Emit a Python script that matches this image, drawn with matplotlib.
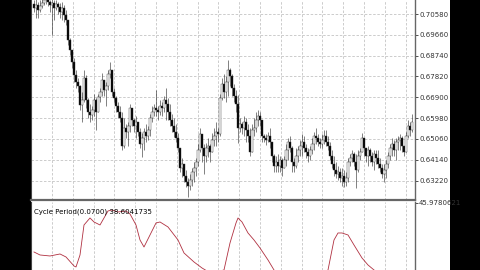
import matplotlib
matplotlib.use('Agg')
import matplotlib.pyplot as plt
from matplotlib.patches import Rectangle

# closes / highs / lows per bar (open = previous close)
close = [0.7085, 0.7098, 0.7076, 0.7093, 0.7107, 0.7120, 0.7129, 0.7111, 0.7098, 0.7107,
         0.7085, 0.7102, 0.7089, 0.7067, 0.7085, 0.7054, 0.7032, 0.6943, 0.6899, 0.6846,
         0.6788, 0.6758, 0.6740, 0.6656, 0.6678, 0.6775, 0.6678, 0.6625, 0.6612, 0.6634,
         0.6678, 0.6625, 0.6691, 0.6713, 0.6766, 0.6722, 0.6740, 0.6793, 0.6811, 0.6713,
         0.6687, 0.6651, 0.6625, 0.6598, 0.6475, 0.6554, 0.6537, 0.6563, 0.6643, 0.6590,
         0.6563, 0.6581, 0.6537, 0.6484, 0.6510, 0.6537, 0.6519, 0.6545, 0.6598, 0.6625,
         0.6643, 0.6634, 0.6625, 0.6651, 0.6643, 0.6678, 0.6660, 0.6625, 0.6590, 0.6563,
         0.6537, 0.6510, 0.6466, 0.6377, 0.6395, 0.6342, 0.6316, 0.6298, 0.6324, 0.6360,
         0.6377, 0.6404, 0.6457, 0.6528, 0.6466, 0.6431, 0.6466, 0.6475, 0.6448, 0.6501,
         0.6519, 0.6537, 0.6528, 0.6687, 0.6749, 0.6713, 0.6758, 0.6811, 0.6784, 0.6731,
         0.6696, 0.6660, 0.6554, 0.6572, 0.6554, 0.6581, 0.6545, 0.6519, 0.6448, 0.6545,
         0.6554, 0.6590, 0.6607, 0.6590, 0.6519, 0.6510, 0.6501, 0.6519, 0.6492, 0.6431,
         0.6386, 0.6404, 0.6386, 0.6413, 0.6377, 0.6413, 0.6457, 0.6492, 0.6466, 0.6404,
         0.6386, 0.6431, 0.6457, 0.6475, 0.6492, 0.6466, 0.6448, 0.6431, 0.6457, 0.6484,
         0.6519, 0.6510, 0.6492, 0.6484, 0.6501, 0.6519, 0.6492, 0.6475, 0.6431, 0.6395,
         0.6369, 0.6351, 0.6360, 0.6333, 0.6342, 0.6316, 0.6333, 0.6404, 0.6422, 0.6439,
         0.6404, 0.6369, 0.6431, 0.6448, 0.6510, 0.6466, 0.6431, 0.6457, 0.6431, 0.6404,
         0.6439, 0.6422, 0.6395, 0.6377, 0.6351, 0.6369, 0.6395, 0.6431, 0.6466, 0.6484,
         0.6457, 0.6492, 0.6501, 0.6510, 0.6475, 0.6448, 0.6519, 0.6563, 0.6545, 0.6581]
high = [0.7120, 0.7129, 0.7111, 0.7120, 0.7133, 0.7142, 0.7147, 0.7138, 0.7120, 0.7129,
        0.7120, 0.7120, 0.7111, 0.7107, 0.7111, 0.7098, 0.7076, 0.7005, 0.6952, 0.6899,
        0.6864, 0.6811, 0.6775, 0.6744, 0.6713, 0.6811, 0.6788, 0.6687, 0.6660, 0.6651,
        0.6705, 0.6687, 0.6705, 0.6731, 0.6797, 0.6758, 0.6758, 0.6811, 0.6846, 0.6811,
        0.6731, 0.6696, 0.6669, 0.6651, 0.6625, 0.6598, 0.6572, 0.6581, 0.6660, 0.6643,
        0.6598, 0.6607, 0.6581, 0.6554, 0.6532, 0.6554, 0.6572, 0.6563, 0.6616, 0.6651,
        0.6660, 0.6722, 0.6651, 0.6678, 0.6669, 0.6696, 0.6731, 0.6687, 0.6660, 0.6616,
        0.6598, 0.6572, 0.6532, 0.6466, 0.6422, 0.6395, 0.6369, 0.6333, 0.6351, 0.6377,
        0.6404, 0.6422, 0.6484, 0.6554, 0.6510, 0.6484, 0.6488, 0.6510, 0.6484, 0.6532,
        0.6554, 0.6581, 0.6554, 0.6705, 0.6775, 0.6793, 0.6784, 0.6855, 0.6819, 0.6793,
        0.6749, 0.6722, 0.6700, 0.6598, 0.6581, 0.6607, 0.6598, 0.6572, 0.6554, 0.6572,
        0.6598, 0.6625, 0.6634, 0.6625, 0.6581, 0.6528, 0.6528, 0.6537, 0.6554, 0.6484,
        0.6439, 0.6431, 0.6439, 0.6431, 0.6422, 0.6431, 0.6484, 0.6510, 0.6519, 0.6475,
        0.6422, 0.6466, 0.6475, 0.6501, 0.6528, 0.6519, 0.6484, 0.6466, 0.6475, 0.6510,
        0.6537, 0.6554, 0.6528, 0.6510, 0.6528, 0.6545, 0.6545, 0.6519, 0.6492, 0.6457,
        0.6431, 0.6404, 0.6386, 0.6377, 0.6377, 0.6369, 0.6360, 0.6422, 0.6439, 0.6457,
        0.6448, 0.6439, 0.6457, 0.6466, 0.6532, 0.6510, 0.6466, 0.6475, 0.6466, 0.6448,
        0.6457, 0.6457, 0.6457, 0.6422, 0.6395, 0.6395, 0.6413, 0.6448, 0.6484, 0.6510,
        0.6501, 0.6510, 0.6519, 0.6528, 0.6519, 0.6475, 0.6537, 0.6590, 0.6581, 0.6616]
low = [0.7067, 0.7040, 0.7040, 0.7067, 0.7085, 0.7098, 0.7102, 0.7093, 0.7067, 0.6965,
       0.7032, 0.7076, 0.7058, 0.7040, 0.7032, 0.7023, 0.7010, 0.6921, 0.6877, 0.6819,
       0.6758, 0.6731, 0.6713, 0.6634, 0.6581, 0.6669, 0.6643, 0.6598, 0.6581, 0.6590,
       0.6607, 0.6545, 0.6634, 0.6669, 0.6696, 0.6696, 0.6651, 0.6722, 0.6775, 0.6696,
       0.6669, 0.6625, 0.6598, 0.6581, 0.6457, 0.6466, 0.6510, 0.6475, 0.6537, 0.6563,
       0.6537, 0.6510, 0.6519, 0.6466, 0.6426, 0.6457, 0.6492, 0.6501, 0.6519, 0.6581,
       0.6607, 0.6607, 0.6590, 0.6612, 0.6607, 0.6625, 0.6590, 0.6590, 0.6563, 0.6537,
       0.6514, 0.6492, 0.6448, 0.6360, 0.6338, 0.6316, 0.6293, 0.6249, 0.6280, 0.6298,
       0.6316, 0.6342, 0.6386, 0.6448, 0.6404, 0.6351, 0.6404, 0.6426, 0.6404, 0.6448,
       0.6475, 0.6475, 0.6492, 0.6519, 0.6678, 0.6687, 0.6669, 0.6696, 0.6740, 0.6696,
       0.6669, 0.6625, 0.6488, 0.6537, 0.6528, 0.6519, 0.6492, 0.6492, 0.6431, 0.6448,
       0.6519, 0.6537, 0.6563, 0.6563, 0.6492, 0.6492, 0.6479, 0.6492, 0.6466, 0.6404,
       0.6360, 0.6360, 0.6360, 0.6360, 0.6342, 0.6377, 0.6386, 0.6413, 0.6448, 0.6360,
       0.6360, 0.6377, 0.6404, 0.6431, 0.6431, 0.6448, 0.6422, 0.6404, 0.6413, 0.6439,
       0.6457, 0.6484, 0.6475, 0.6466, 0.6466, 0.6484, 0.6475, 0.6457, 0.6413, 0.6377,
       0.6342, 0.6333, 0.6324, 0.6316, 0.6298, 0.6293, 0.6298, 0.6316, 0.6386, 0.6404,
       0.6386, 0.6289, 0.6360, 0.6413, 0.6448, 0.6431, 0.6404, 0.6386, 0.6404, 0.6386,
       0.6369, 0.6395, 0.6377, 0.6360, 0.6333, 0.6316, 0.6333, 0.6377, 0.6413, 0.6431,
       0.6431, 0.6413, 0.6457, 0.6457, 0.6448, 0.6431, 0.6448, 0.6510, 0.6519, 0.6537]
first_open = 0.7102

price_ticks = [0.70580, 0.69660, 0.68740, 0.67820, 0.66900, 0.65980, 0.65060, 0.64140, 0.63220]

# Cycle Period indicator, sampled at bar index
cyc_bar = [0, 3, 8, 13, 16, 20, 21, 23, 25, 28, 30, 33, 35, 37, 39, 42, 46, 48, 51, 53, 55,
           58, 61, 63, 67, 72, 75, 80, 84, 89, 93, 95, 98, 101, 102, 104, 107, 110, 113, 117,
           120, 128, 138, 147, 150, 152, 154, 157, 160, 164, 167, 170, 176, 183, 189]
cyc_val = [41.08, 40.78, 40.68, 40.88, 40.58, 39.68, 39.58, 40.78, 43.78, 44.48, 44.08, 43.78,
           44.48, 45.18, 45.28, 45.08, 45.18, 44.88, 43.78, 42.28, 41.58, 42.78, 43.98, 44.08,
           43.58, 42.28, 40.98, 40.08, 39.48, 38.88, 39.18, 39.28, 41.98, 43.98, 44.48, 44.08,
           42.98, 42.28, 41.48, 40.28, 39.28, 37.78, 37.90, 39.28, 42.28, 42.98, 42.98, 42.78,
           41.78, 40.48, 39.78, 39.28, 38.50, 38.20, 38.60]
cyc_top = 45.9780621
cyc_last = 38.6041735

n = len(close)
opens = [first_open] + close[:-1]

fig = plt.figure(figsize=(4.8, 2.7), dpi=100, facecolor='black')
fig.patches.append(Rectangle((31 / 480, 0), (450 - 31) / 480, 1, transform=fig.transFigure,
                             facecolor='white', edgecolor='none', zorder=-10))

ax = fig.add_axes([31 / 480, 1 - 200 / 270, 384 / 480, 200 / 270])
ax2 = fig.add_axes([31 / 480, 0, 384 / 480, 68 / 270])

grid_x = [9 + 10.4 * k for k in range(18)]
grid_kw = dict(color='#c4c4c4', linestyle=(0, (3, 2)), linewidth=0.6)

for a in (ax, ax2):
    a.set_facecolor('none')
    a.set_xlim(-1.5, n + 0.5)
    a.set_xticks(grid_x)
    a.tick_params(axis='x', length=0, labelbottom=False)
    a.yaxis.tick_right()
    a.tick_params(axis='y', direction='out', length=2, width=0.6, pad=1,
                  labelsize=5, colors='#333333')
    a.spines['top'].set_visible(False)
    a.spines['left'].set_color('#444444')
    a.spines['left'].set_linewidth(0.8)
    a.spines['right'].set_color('#666666')
    a.spines['right'].set_linewidth(1.0)
    a.grid(axis='x', **grid_kw)
    a.set_axisbelow(True)

ax.grid(axis='y', **grid_kw)
ax.spines['bottom'].set_color('#666666')
ax.spines['bottom'].set_linewidth(1.6)
ax2.spines['bottom'].set_visible(False)

# candles: white body for up bars, black for down bars
for i in range(n):
    o, c = opens[i], close[i]
    hi = max(high[i], o, c)
    lo = min(low[i], o, c)
    ax.vlines(i, lo, hi, color='#222222', linewidth=0.4, zorder=2)
    bottom = min(o, c)
    height = max(abs(c - o), 0.00008)
    face = 'white' if c >= o else 'black'
    ax.bar(i, height, bottom=bottom, width=0.6, facecolor=face,
           edgecolor='#333333', linewidth=0.3, zorder=3)

ax.set_ylim(0.6236, 0.71199)
ax.set_yticks(price_ticks)
ax.set_yticklabels([f'{v:.5f}' for v in price_ticks])

ax2.plot(cyc_bar, cyc_val, color='#b03040', linewidth=0.6)
ax2.set_ylim(39.278, 46.078)
ax2.set_yticks([cyc_top])
ax2.set_yticklabels([f'{cyc_top:.7f}'])
ax2.text(0.008, 0.9, f'Cycle Period(0.0700) {cyc_last:.7f}',
         transform=ax2.transAxes, fontsize=5, color='black', va='top', ha='left')

fig.savefig('out.png', dpi=100, facecolor=fig.get_facecolor())
